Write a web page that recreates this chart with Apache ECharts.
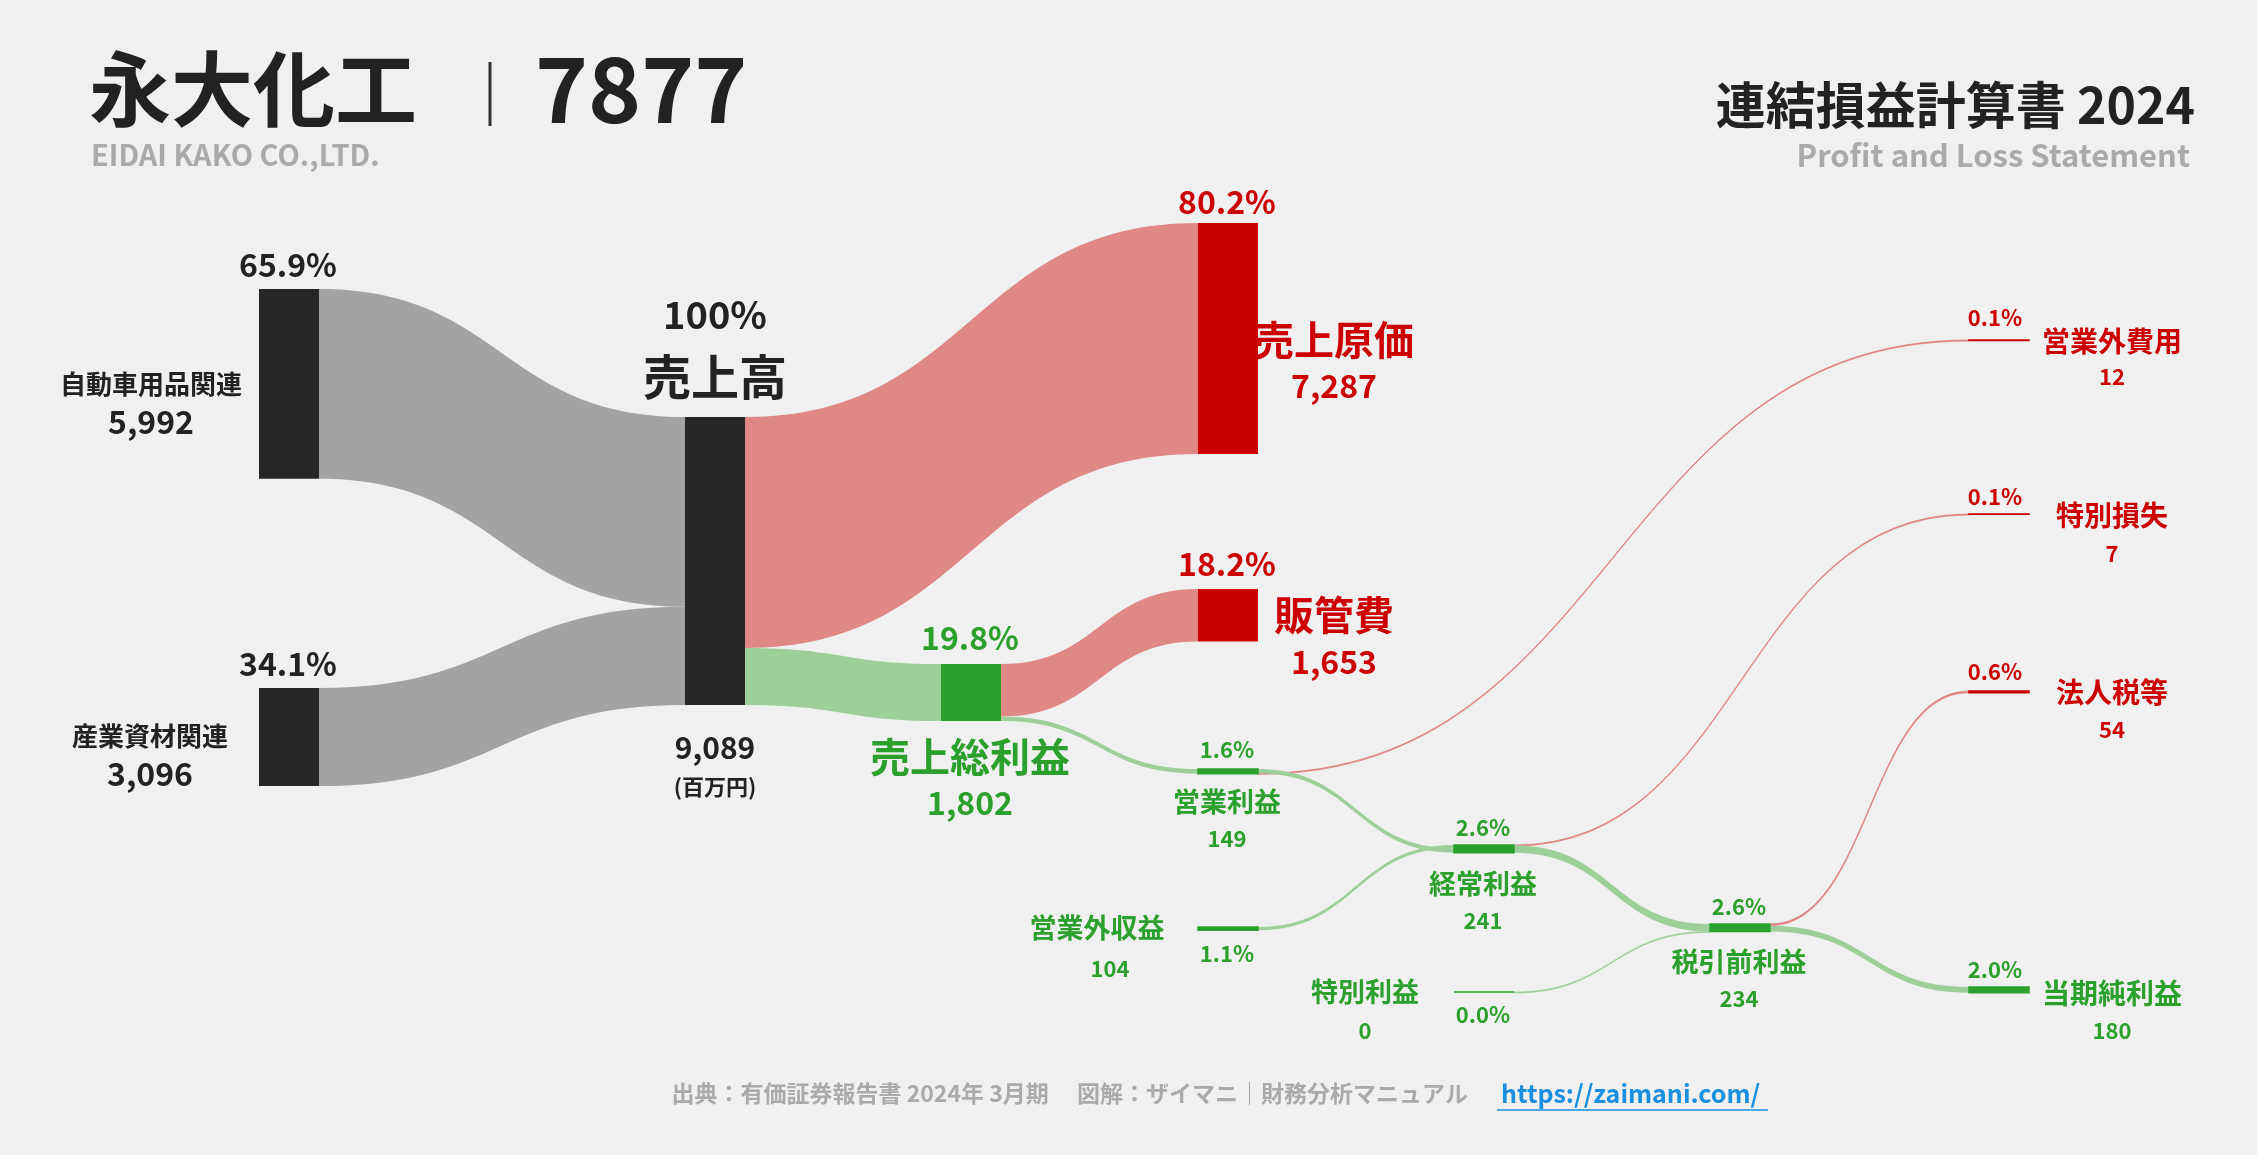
<!DOCTYPE html>
<html><head><meta charset="utf-8">
<script src="https://cdn.jsdelivr.net/npm/echarts@6/dist/echarts.min.js"></script>
<style>html,body{margin:0;background:#f0f0f0}#c{width:2257px;height:1155px}</style>
</head><body><div id="c"></div>
<script>
// ---- data ----
const nodeNames = ['自動車用品関連','産業資材関連','売上高','売上原価','売上総利益','販管費','営業利益','営業外収益','営業外費用','経常利益','特別利益','特別損失','税引前利益','法人税等','当期純利益'];
const nodeValues = [5992,3096,9089,7287,1802,1653,149,104,12,241,0,7,234,54,180];
const nodeKinds = ['src','src','src','cost','profit','cost','profit','profit','cost','profit','profit','cost','profit','cost','profit'];
const linkSource = ['自動車用品関連','産業資材関連','売上高','売上高','売上総利益','売上総利益','営業利益','営業利益','営業外収益','経常利益','経常利益','特別利益','税引前利益','税引前利益'];
const linkTarget = ['売上高','売上高','売上原価','売上総利益','販管費','営業利益','営業外費用','経常利益','経常利益','特別損失','税引前利益','税引前利益','法人税等','当期純利益'];
const linkValues = [5992,3096,7287,1802,1653,149,12,137,104,7,234,0,54,180];
const percentLabels = ['65.9%','34.1%','100%','80.2%','19.8%','18.2%','1.6%','1.1%','0.1%','2.6%','0.0%','0.1%','2.6%','0.6%','2.0%'];
const valueLabels = ['5,992','3,096','9,089','7,287','1,802','1,653','149','104','12','241','0','7','234','54','180'];

// ---- layout (pixels in a 2257x1155 canvas) ----
const W=2257,H=1155;
const nodeDepth = [0,0,1,2,2,3,3,4,4,5,5,6,6,7,7];
const nodeX = [259,259,685,1198,941,1198,1198,1198,1969,1454,1454,1969,1710,1969,1969];
const nodeY = [289,688,417,223,664,589,769,927,340,845,992,514,924,691,987];
const colors = {src:'#262626',cost:'#cc0000',profit:'#2ca02c'};
const linkColors = {src:'#a3a3a3',cost:'#e08886',profit:'#9dcf98'};
const thinCost='#e07a7a';

const kindOf = n => nodeKinds[nodeNames.indexOf(n)];
const data = nodeNames.map((n,i)=>({name:n,value:nodeValues[i],depth:nodeDepth[i],localX:nodeX[i]/W,localY:nodeY[i]/H,
  itemStyle:{color:colors[nodeKinds[i]],borderColor:colors[nodeKinds[i]],borderWidth:nodeValues[i]<300?1.5:0}}));
const links = linkSource.map((s,i)=>{
  const srcK=kindOf(s), tk=kindOf(linkTarget[i]);
  let c = srcK==='src'&&s!=='売上高'? linkColors.src : (tk==='cost'? linkColors.cost : linkColors.profit);
  if (s==='売上高') c = tk==='cost'?linkColors.cost:linkColors.profit;
  const thin = linkValues[i]<60;
  return {source:s,target:linkTarget[i],value:linkValues[i],
    lineStyle:{color:c,opacity:1,borderColor:tk==='cost'?thinCost:'#9dcf98',borderWidth:thin?0.7:0}};
});

const G='#2ca02c',R='#cc0000',K='#222';
const FF='"Noto Sans CJK JP","Noto Sans",sans-serif';
const texts = [
 // [text,x,y,align,size,color]
 [percentLabels[0],288,265,'center',32,K],[nodeNames[0],151,384,'center',26,K],[valueLabels[0],151,422,'center',32,K],
 [percentLabels[1],288,664,'center',32,K],[nodeNames[1],150,736,'center',26,K],[valueLabels[1],150,774,'center',32,K],
 [percentLabels[2],715,315,'center',38,K],[nodeNames[2],715,377,'center',48,K],[valueLabels[2],715,748,'center',30,K],['(百万円)',715,787,'center',22,K],
 [percentLabels[3],1227,202,'center',32,R],[nodeNames[3],1334,340,'center',40,R],[valueLabels[3],1334,386,'center',32,R],
 [percentLabels[5],1227,564,'center',32,R],[nodeNames[5],1334,615,'center',40,R],[valueLabels[5],1334,662,'center',32,R],
 [percentLabels[4],970,638,'center',32,G],[nodeNames[4],970,757,'center',40,G],[valueLabels[4],970,803,'center',32,G],
 [percentLabels[6],1227,750,'center',22,G],[nodeNames[6],1227,802,'center',27,G],[valueLabels[6],1227,839,'center',22,G],
 [nodeNames[7],1097,928,'center',27,G],[valueLabels[7],1110,969,'center',22,G],[percentLabels[7],1227,954,'center',22,G],
 [percentLabels[9],1483,828,'center',22,G],[nodeNames[9],1483,884,'center',27,G],[valueLabels[9],1483,921,'center',22,G],
 [nodeNames[10],1365,992,'center',27,G],[valueLabels[10],1365,1031,'center',22,G],[percentLabels[10],1483,1015,'center',22,G],
 [percentLabels[12],1739,907,'center',22,G],[nodeNames[12],1739,962,'center',27,G],[valueLabels[12],1739,999,'center',22,G],
 [percentLabels[8],1995,318,'center',22,R],[nodeNames[8],2112,341,'center',28,R],[valueLabels[8],2112,377,'center',22,R],
 [percentLabels[11],1995,497,'center',22,R],[nodeNames[11],2112,515,'center',28,R],[valueLabels[11],2112,554,'center',22,R],
 [percentLabels[13],1995,672,'center',22,R],[nodeNames[13],2112,692,'center',28,R],[valueLabels[13],2112,730,'center',22,R],
 [percentLabels[14],1995,970,'center',22,G],[nodeNames[14],2112,993,'center',28,G],[valueLabels[14],2112,1031,'center',22,G],
 ['永大化工',89,89,'left',82,K],['7877',535,89,'left',90,K],['EIDAI KAKO CO.,LTD.',91,155,'left',29,'#aaa'],
 ['連結損益計算書 2024',2195,105,'right',50,K],['Profit and Loss Statement',2190,155,'right',31,'#aaa'],
 ['出典：有価証券報告書 2024年 3月期　 図解：ザイマニ｜財務分析マニュアル',1468,1093,'right',23,'#aaa'],
 ['https://zaimani.com/',1501,1093,'left',25,'#1a8fe0']
];
const graphic = texts.map(t=>({type:'text',left:null,x:t[1],y:t[2],style:{text:t[0],x:0,y:0,align:t[3],verticalAlign:'middle',
  font:`bold ${t[4]}px ${FF}`,fill:t[5]}}));
graphic.push({type:'line',shape:{x1:490,y1:62,x2:490,y2:126},style:{stroke:'#333',lineWidth:3}});
graphic.push({type:'line',shape:{x1:1497,y1:1110,x2:1768,y2:1110},style:{stroke:'#1a8fe0',lineWidth:1.5}});

const chart = echarts.init(document.getElementById('c'));
chart.setOption({
  backgroundColor:'#f0f0f0',
  animation:false,
  graphic,
  series:[{type:'sankey',left:0,top:0,right:0,bottom:0,nodeWidth:60,nodeGap:867,layoutIterations:0,
    draggable:false,emphasis:{disabled:true},label:{show:false},
    lineStyle:{curveness:0.5},data,links}]
});
</script></body></html>
